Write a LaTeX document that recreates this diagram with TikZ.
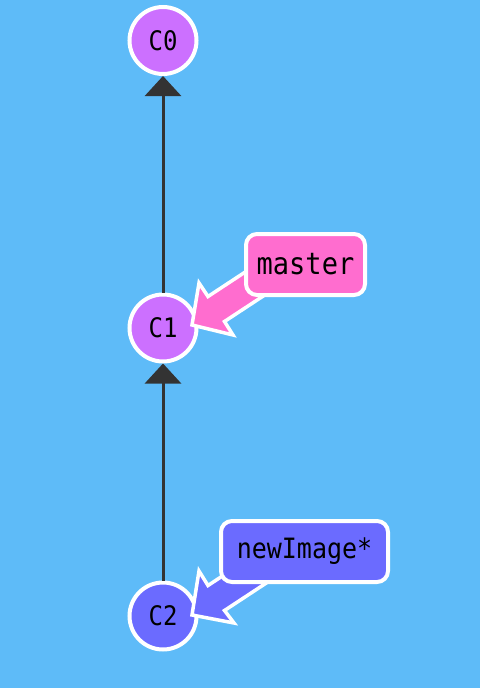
\documentclass[tikz,border=0pt]{standalone}
\usepackage{fontspec}
\setmonofont{DejaVu Sans Mono}
\usetikzlibrary{arrows.meta,calc}
\definecolor{bg}{HTML}{5EBBF8}
\definecolor{violet}{HTML}{CC70FF}
\definecolor{bluec}{HTML}{6B6BFF}
\definecolor{pinkc}{HTML}{FF6DCF}
\definecolor{darkc}{HTML}{333333}
\tikzset{
  commit/.style={circle, draw=white, line width=4pt, minimum size=67pt, inner sep=0pt,
    font=\ttfamily\fontsize{24}{24}\selectfont, text=black},
  parentlink/.style={darkc, line width=3pt, -{Triangle[width=36pt,length=20pt]}},
  branchbox/.style={draw=white, line width=4pt, rounded corners=11pt, minimum height=61pt,
    inner sep=0pt, text=black},
  branchptr/.style={draw=white, line width=3.5pt, line join=miter, miter limit=10},
}
\newcommand{\tallish}[1]{\scalebox{1}[1.12]{#1}}
\begin{document}
\begin{tikzpicture}[x=1pt,y=-1pt]
\fill[bg] (0,0) rectangle (480,688);
\useasboundingbox (0,0) rectangle (480,688);
\node[commit, fill=violet] (C0) at (163,40.5) {\tallish{C0}};
\node[commit, fill=violet] (C1) at (163,328) {\tallish{C1}};
\node[commit, fill=bluec] (C2) at (163,616) {\tallish{C2}};
\draw[parentlink] (C1) -- (C0);
\draw[parentlink] (C2) -- (C1);
% master pointer
\coordinate (mt) at ($(C1)+(29,-3)$);
\filldraw[branchptr, fill=pinkc] (mt) -- ($(mt)+(7,-42)$) -- ($(mt)+(16,-28.5)$) -- ($(mt)+(74.5,-67)$)
  -- ($(mt)+(91,-42)$) -- ($(mt)+(32.5,-3.5)$) -- ($(mt)+(41,10)$) -- cycle;
\node[branchbox, fill=pinkc, minimum width=119pt, font=\ttfamily\fontsize{27}{27}\selectfont] (master) at (305.5,264.5) {\tallish{master}};
% newImage pointer
\coordinate (nt) at ($(C2)+(29,-1)$);
\filldraw[branchptr, fill=bluec] (nt) -- ($(nt)+(7,-44)$) -- ($(nt)+(16,-29.5)$) -- ($(nt)+(74.5,-68)$)
  -- ($(nt)+(91,-43)$) -- ($(nt)+(32.5,-4.5)$) -- ($(nt)+(42,8)$) -- cycle;
\node[branchbox, fill=bluec, minimum width=167pt, font=\ttfamily\fontsize{25}{25}\selectfont] (newimg) at (304.5,551.5) {\tallish{newImage*}};
\end{tikzpicture}
\end{document}
